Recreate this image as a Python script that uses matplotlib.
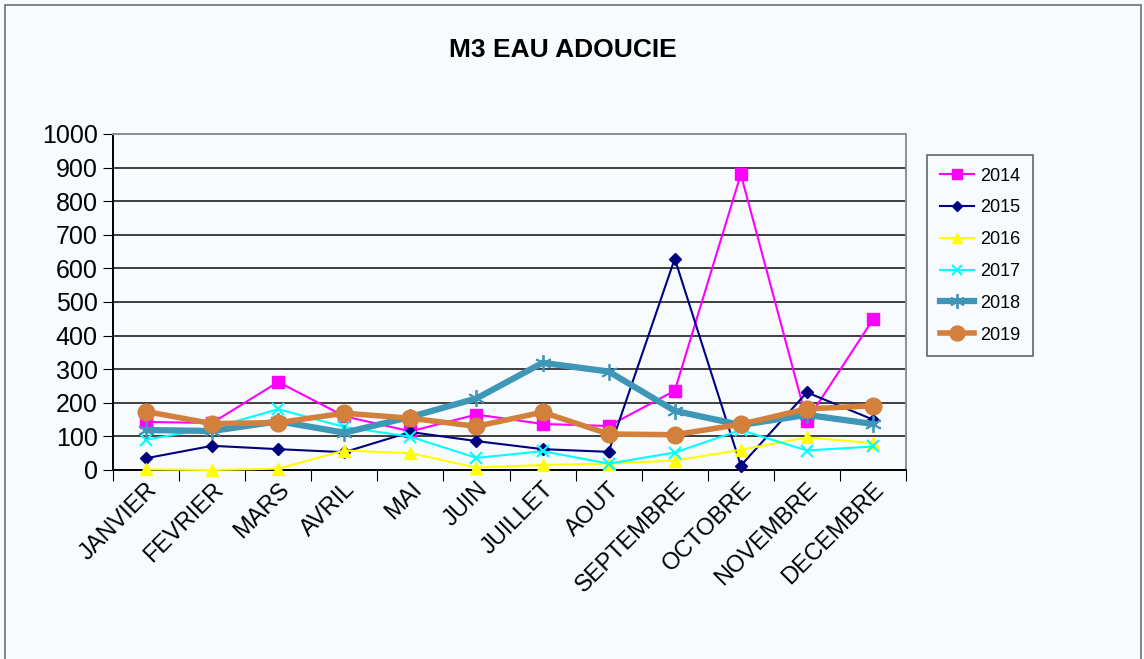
import matplotlib.pyplot as plt
from matplotlib.patches import Rectangle

plt.rcParams['font.family'] = ['Liberation Sans', 'DejaVu Sans']

months = ["JANVIER", "FEVRIER", "MARS", "AVRIL", "MAI", "JUIN", "JUILLET",
          "AOUT", "SEPTEMBRE", "OCTOBRE", "NOVEMBRE", "DECEMBRE"]

v2014 = [143, 140, 262, 160, 115, 165, 137, 131, 236, 880, 147, 448]
v2015 = [35, 72, 62, 53, 113, 86, 62, 54, 629, 13, 231, 150]
v2016 = [2, 0, 4, 58, 50, 7, 15, 19, 28, 60, 97, 80]
v2017 = [90, 125, 181, 128, 99, 36, 56, 19, 52, 119, 58, 70]
v2018 = [119, 116, 145, 111, 158, 213, 319, 293, 176, 134, 164, 137]
v2019 = [174, 138, 141, 169, 154, 130, 172, 107, 105, 136, 182, 191]

bg = "#f7fbfd"
fig = plt.figure(figsize=(11.44, 6.59), dpi=100, facecolor=bg)
fig.patches.append(Rectangle((0.004, -0.01), 0.993, 1.002, transform=fig.transFigure,
                             fill=False, edgecolor="#707070", linewidth=1.2))
ax = fig.add_axes([0.0988, 0.2868, 0.6932, 0.5099])
ax.set_facecolor(bg)

x = list(range(len(months)))
kw = dict(clip_on=False, zorder=3)
ax.plot(x, v2014, '-s', color="#ff00ff", lw=1.5, ms=8, label="2014", **kw)
ax.plot(x, v2015, '-D', color="#000080", lw=1.5, ms=6, label="2015", **kw)
ax.plot(x, v2016, '-^', color="#ffff00", lw=1.5, ms=8, label="2016", **kw)
ax.plot(x, v2017, '-x', color="#00ffff", lw=1.5, ms=8, mew=1.5, label="2017", **kw)
ax.plot(x, v2018, '-', color="#3f97b8", lw=4.5, marker=(6, 2, 0), ms=12, mew=1.3,
        label="2018", **kw)
ax.plot(x, v2019, '-o', color="#d2803c", lw=4, ms=12, label="2019", **kw)

ax.set_xlim(-0.5, 11.5)
ax.set_ylim(0, 1000)
ax.set_yticks(range(0, 1001, 100))
ax.set_xticks([i + 0.5 for i in range(-1, 12)], minor=False)
ax.set_xticklabels([])
ax.set_xticks(x, minor=True)
ax.set_xticklabels(months, minor=True, rotation=45, ha='right', rotation_mode='anchor',
                   fontsize=17)
ax.tick_params(axis='x', which='minor', length=0, pad=6)
ax.tick_params(axis='x', which='major', length=8, direction='out', color='black')
ax.tick_params(axis='y', length=7, direction='out', labelsize=18, pad=4)
ax.grid(axis='y', color='#303030', lw=1.3)
ax.set_axisbelow(True)
ax.spines['left'].set_color('black')
ax.spines['bottom'].set_color('black')
ax.spines['top'].set_color('#909090')
ax.spines['right'].set_color('#909090')
for s in ax.spines.values():
    s.set_linewidth(1.4)

fig.text(0.492, 0.924, "M3 EAU ADOUCIE", ha='center', va='center',
         fontsize=19, fontweight='bold')

leg = fig.legend(loc='upper left', bbox_to_anchor=(0.8105, 0.765), fontsize=13,
                 frameon=True, fancybox=False, edgecolor='#404040',
                 facecolor=bg, handlelength=1.9, labelspacing=0.82,
                 borderpad=0.7, handletextpad=0.35, borderaxespad=0,
                 markerscale=0.9)
leg.get_frame().set_linewidth(1.2)

fig.savefig("out.png", dpi=100, facecolor=bg)
